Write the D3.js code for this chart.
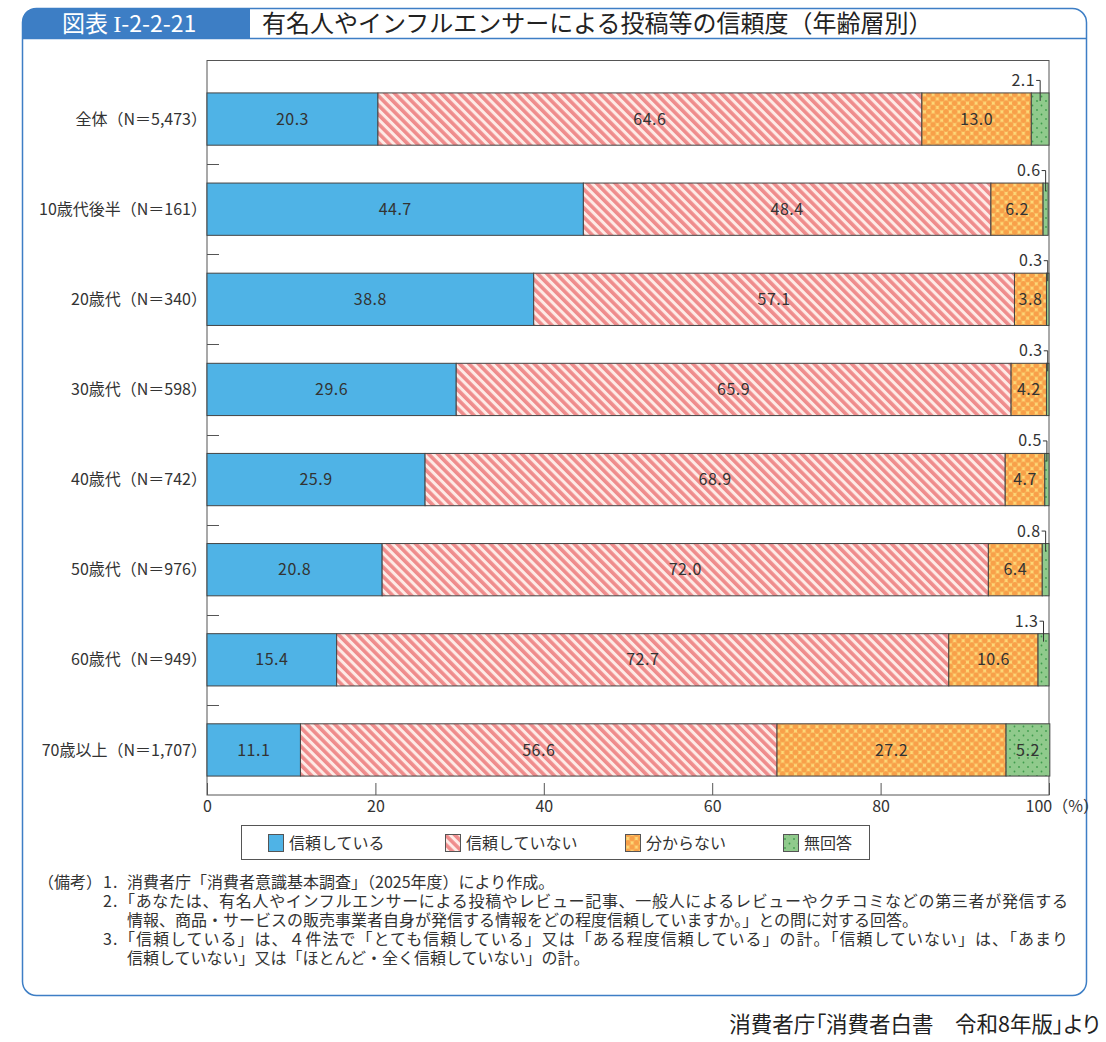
<!DOCTYPE html>
<html lang="ja">
<head>
	<meta charset="UTF-8">
	<title>有名人やインフルエンサーによる投稿等の信頼度（年齢層別）</title>
	<script type="text/javascript" src="https://cdn.jsdelivr.net/npm/d3@7"></script>
	<style>
		body { margin: 0; background: #fff; }
		svg { display: block; font-family: "Noto Sans CJK JP", "Noto Sans", sans-serif; }
		.palt { font-feature-settings: "palt"; }
	</style>
</head>
<body>
<script>
  // data
  const categories = ["全体（N＝5,473）", "10歳代後半（N＝161）", "20歳代（N＝340）", "30歳代（N＝598）",
                      "40歳代（N＝742）", "50歳代（N＝976）", "60歳代（N＝949）", "70歳以上（N＝1,707）"]
  const seriesNames = ["信頼している", "信頼していない", "分からない", "無回答"]
  const trust    = [20.3, 44.7, 38.8, 29.6, 25.9, 20.8, 15.4, 11.1]
  const distrust = [64.6, 48.4, 57.1, 65.9, 68.9, 72.0, 72.7, 56.6]
  const unknown  = [13.0, 6.2, 3.8, 4.2, 4.7, 6.4, 10.6, 27.2]
  const noAnswer = [2.1, 0.6, 0.3, 0.3, 0.5, 0.8, 1.3, 5.2]
  const xTicks = [0, 20, 40, 60, 80, 100]

  const figNo = ["図表 ", "I", "-2-2-21"]
  const title = "有名人やインフルエンサーによる投稿等の信頼度（年齢層別）"
  const notes = [
    ["（備考）", "1.", "消費者庁「消費者意識基本調査」（2025年度）により作成。"],
    ["", "2.", "「あなたは、有名人やインフルエンサーによる投稿やレビュー記事、一般人によるレビューやクチコミなどの第三者が発信する"],
    ["", "", "情報、商品・サービスの販売事業者自身が発信する情報をどの程度信頼していますか。」との問に対する回答。"],
    ["", "3.", "「信頼している」は、４件法で「とても信頼している」又は「ある程度信頼している」の計。「信頼していない」は、「あまり"],
    ["", "", "信頼していない」又は「ほとんど・全く信頼していない」の計。"]
  ]
  const source = "消費者庁「消費者白書　令和8年版」より"

  const keys = ["trust", "distrust", "unknown", "noAnswer"]
  const rows = categories.map((c, i) => ({
    cat: c, trust: trust[i], distrust: distrust[i], unknown: unknown[i], noAnswer: noAnswer[i]
  }))

  const W = 1106, H = 1042
  const blue = "#3d7ec5"

  const svg = d3.select("body").append("svg")
    .attr("width", W).attr("height", H)

  // ---- patterns
  const defs = svg.append("defs")

  let p = defs.append("pattern").attr("id", "hatch")
    .attr("patternUnits", "userSpaceOnUse").attr("width", 6.6).attr("height", 6.6)
    .attr("patternTransform", "rotate(-45)")
  p.append("rect").attr("width", 6.6).attr("height", 6.6).attr("fill", "#feeae6")
  p.append("rect").attr("width", 3.6).attr("height", 6.6).attr("fill", "#ef8c8c")

  p = defs.append("pattern").attr("id", "dots")
    .attr("patternUnits", "userSpaceOnUse").attr("width", 8.6).attr("height", 8.6)
  p.append("rect").attr("width", 8.6).attr("height", 8.6).attr("fill", "#fdd978")
  ;[[0, 0], [8.6, 0], [0, 8.6], [8.6, 8.6], [4.3, 4.3]].forEach(d => {
    p.append("circle").attr("cx", d[0]).attr("cy", d[1]).attr("r", 2.9).attr("fill", "#f8a049")
  })

  p = defs.append("pattern").attr("id", "speck")
    .attr("patternUnits", "userSpaceOnUse").attr("width", 9).attr("height", 9)
  p.append("rect").attr("width", 9).attr("height", 9).attr("fill", "#90ca8c")
  ;[[2, 2], [6.5, 6.5]].forEach(d => {
    p.append("circle").attr("cx", d[0]).attr("cy", d[1]).attr("r", 0.9).attr("fill", "#3f9c4c")
  })

  const fills = ["#4fb3e6", "url(#hatch)", "url(#dots)", "url(#speck)"]

  // ---- frame + header
  svg.append("rect")
    .attr("x", 22.5).attr("y", 8.5).attr("width", 1064).attr("height", 987)
    .attr("rx", 14).attr("fill", "none").attr("stroke", blue).attr("stroke-width", 1.5)

  svg.append("path")
    .attr("d", "M22.5,38 L22.5,22.5 Q22.5,8.5 36.5,8.5 L250,8.5 L250,38 Z")
    .attr("fill", blue)
  svg.append("line")
    .attr("x1", 22.5).attr("x2", 1086.5).attr("y1", 38.5).attr("y2", 38.5)
    .attr("stroke", blue).attr("stroke-width", 1.5)

  const fig = svg.append("text").attr("x", 62).attr("y", 32)
    .attr("font-size", 23).attr("fill", "#fff")
  fig.append("tspan").text(figNo[0])
  fig.append("tspan").attr("font-family", "\"Liberation Serif\", serif").attr("font-size", 24).text(figNo[1])
  fig.append("tspan").text(figNo[2])
  svg.append("text").attr("x", 262).attr("y", 32)
    .attr("font-size", 24).attr("fill", "#222").text(title)

  // ---- scales
  const x = d3.scaleLinear().domain([0, 100]).range([207, 1049])
  const y = d3.scaleBand().domain(categories).range([74, 795])
    .paddingInner(0.42).paddingOuter(0.21)

  const chart = svg.append("g").classed("display", true)

  chart.append("rect")
    .attr("x", x(0)).attr("y", 60.5).attr("width", x(100) - x(0)).attr("height", 795 - 60.5)
    .attr("fill", "none").attr("stroke", "#555").attr("stroke-width", 1)

  // little dashes between groups
  chart.selectAll(".sep")
    .data(categories.slice(1))
    .enter().append("line")
      .classed("sep", true)
      .attr("x1", x(0)).attr("x2", x(0) + 12)
      .attr("y1", d => Math.round(y(d) - y.step() * 0.21) + 0.5)
      .attr("y2", d => Math.round(y(d) - y.step() * 0.21) + 0.5)
      .attr("stroke", "#555")

  // category labels
  chart.selectAll(".cat")
    .data(categories)
    .enter().append("text")
      .classed("cat", true)
      .attr("x", 207)
      .attr("y", d => y(d) + y.bandwidth() / 2)
      .attr("dy", "0.35em")
      .attr("text-anchor", "end")
      .attr("font-size", 16).attr("fill", "#333")
      .text(d => d)

  // x axis, ticks pointing up
  const axis = chart.append("g")
    .attr("transform", "translate(0,795)")
    .call(d3.axisBottom(x).tickValues(xTicks).tickSizeInner(-12).tickSizeOuter(0).tickPadding(6))
  axis.select(".domain").remove()
  axis.selectAll(".tick line").attr("stroke", "#555")
  axis.selectAll(".tick text")
    .attr("font-family", "\"Noto Sans CJK JP\", sans-serif")
    .attr("font-size", 16).attr("fill", "#333")
  axis.selectAll(".tick text").filter(d => d === 100)
    .attr("text-anchor", "start").attr("x", -24).text("100（%）")

  // ---- stacked bars
  const stacked = d3.stack().keys(keys)(rows)

  const layer = chart.selectAll(".layer")
    .data(stacked)
    .enter().append("g")
      .classed("layer", true)
      .attr("fill", (d, i) => fills[i])

  layer.selectAll("rect")
    .data(d => d)
    .enter().append("rect")
      .attr("x", d => x(d[0]))
      .attr("y", d => y(d.data.cat))
      .attr("width", d => x(d[1]) - x(d[0]))
      .attr("height", y.bandwidth())
      .attr("stroke", "#444").attr("stroke-width", 1)

  // value labels
  stacked.forEach((s, si) => {
    s.forEach(d => {
      const v = d[1] - d[0]
      const cx = (x(d[0]) + x(d[1])) / 2
      const top = y(d.data.cat)
      if (si === 3 && v < 3) {
        chart.append("text")
          .attr("x", cx - 5).attr("y", top - 7)
          .attr("text-anchor", "end")
          .attr("font-size", 16).attr("letter-spacing", 0.5).attr("fill", "#333")
          .text(d3.format(".1f")(v))
        chart.append("path")
          .attr("d", `M${cx - 4},${top - 12.5} H${cx} V${top + 8}`)
          .attr("fill", "none").attr("stroke", "#333").attr("stroke-width", 1)
      } else {
        chart.append("text")
          .attr("x", cx).attr("y", top + y.bandwidth() / 2)
          .attr("dy", "0.35em")
          .attr("text-anchor", "middle")
          .attr("font-size", 16).attr("letter-spacing", 0.5).attr("fill", "#333")
          .text(d3.format(".1f")(v))
      }
    })
  })

  // ---- legend
  const legend = svg.append("g")
  legend.append("rect")
    .attr("x", 241.5).attr("y", 825.5).attr("width", 628).attr("height", 34)
    .attr("fill", "#fff").attr("stroke", "#555")
  const legX = [268, 445, 625, 783]
  seriesNames.forEach((n, i) => {
    legend.append("rect")
      .attr("x", legX[i] + 0.5).attr("y", 834.5).attr("width", 15).attr("height", 17)
      .attr("fill", fills[i]).attr("stroke", "#555")
    legend.append("text")
      .attr("x", legX[i] + 21).attr("y", 849)
      .attr("font-size", 16).attr("fill", "#333").text(n)
  })

  // ---- notes
  const noteG = svg.append("g").attr("font-size", 16).attr("fill", "#333")
  notes.forEach((n, i) => {
    const yy = 888 + i * 19
    if (n[0]) noteG.append("text").attr("x", 38).attr("y", yy).text(n[0])
    if (n[1]) noteG.append("text").attr("x", 103).attr("y", yy).attr("letter-spacing", 1).text(n[1])
    const x0 = n[2].startsWith("「") ? 119 : 127
    const t = noteG.append("text")
      .attr("x", x0).attr("y", yy)
      .text(n[2])
    // the two full lines run to the right margin
    if (i === 1 || i === 3) t.attr("textLength", 1068 - x0).attr("lengthAdjust", "spacing")
  })

  svg.append("text")
    .classed("palt", true)
    .attr("x", 1100).attr("y", 1032)
    .attr("text-anchor", "end")
    .attr("font-size", 21.5).attr("fill", "#222")
    .text(source)
</script>
</body>
</html>
